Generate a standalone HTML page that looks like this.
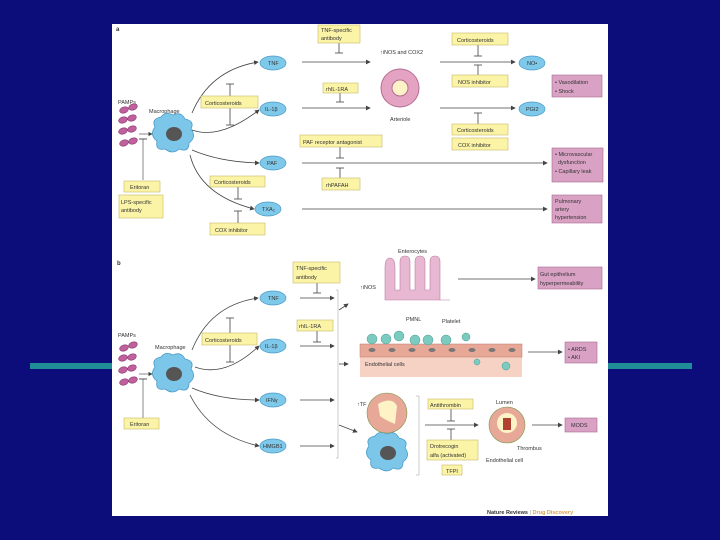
<!DOCTYPE html>
<html><head><meta charset="utf-8"><style>
html,body{margin:0;padding:0;width:720px;height:540px;overflow:hidden;background:#0c0c7a}
svg{position:absolute;left:0;top:0}
text{font-family:"Liberation Sans",sans-serif;fill:#333}
</style></head><body>
<svg width="720" height="540" viewBox="0 0 720 540">
<defs>
<marker id="ar" markerWidth="6" markerHeight="6" refX="5" refY="3" orient="auto"><path d="M0,0 L6,3 L0,6 z" fill="#444"/></marker>
<g id="mac"><path d="M-18,-6 Q-22,-14 -12,-16 Q-8,-22 0,-18 Q8,-22 12,-14 Q22,-12 18,-4 Q24,4 16,10 Q16,20 6,16 Q0,22 -8,16 Q-18,18 -16,8 Q-24,2 -18,-6z" fill="#7cc6ea" stroke="#4a9cc8" stroke-width="0.8"/><ellipse cx="1" cy="1" rx="8" ry="7" fill="#555"/></g>
<g id="pam"><ellipse cx="0" cy="0" rx="4.5" ry="3" fill="#c0609c" stroke="#8a3a70" stroke-width="0.6" transform="rotate(-20)"/></g>
</defs>
<rect x="30" y="363" width="662" height="6" fill="#1f8c96"/>
<rect x="112" y="24" width="496" height="492" fill="#fff"/>
<g font-size="5.5">
<text x="116" y="31" font-weight="bold" font-size="6">a</text>
<!-- panel a -->
<use href="#mac" x="173" y="133"/>
<text x="149" y="113">Macrophage</text>
<text x="118" y="104">PAMPs</text>
<use href="#pam" x="124" y="110"/><use href="#pam" x="133" y="107"/>
<use href="#pam" x="123" y="120"/><use href="#pam" x="132" y="118"/>
<use href="#pam" x="123" y="131"/><use href="#pam" x="132" y="129"/>
<use href="#pam" x="124" y="143"/><use href="#pam" x="133" y="141"/>
<line x1="139" y1="134" x2="152" y2="134" stroke="#555" stroke-width="0.7" marker-end="url(#ar)"/>
<line x1="143" y1="139" x2="143" y2="180" stroke="#555" stroke-width="0.7"/><line x1="139" y1="139" x2="147" y2="139" stroke="#555"/>
<g fill="none" stroke="#444" stroke-width="0.8" marker-end="url(#ar)">
<path d="M192,113 Q210,70 258,62"/><path d="M192,130 Q220,140 259,110"/>
<path d="M192,150 Q220,162 259,163"/><path d="M190,155 Q200,195 254,209"/>
<line x1="302" y1="62" x2="370" y2="62"/><line x1="302" y1="108" x2="370" y2="108"/>
<line x1="440" y1="62" x2="515" y2="62"/><line x1="440" y1="108" x2="515" y2="108"/>
<line x1="302" y1="163" x2="547" y2="163"/><line x1="302" y1="209" x2="547" y2="209"/>
</g>
<g stroke="#444" stroke-width="0.8">
<line x1="230" y1="84" x2="230" y2="96"/><line x1="226" y1="84" x2="234" y2="84"/>
<line x1="230" y1="108" x2="230" y2="125"/><line x1="226" y1="125" x2="234" y2="125"/>
<line x1="339" y1="43" x2="339" y2="53"/><line x1="335" y1="53" x2="343" y2="53"/>
<line x1="340" y1="93" x2="340" y2="102"/><line x1="336" y1="102" x2="344" y2="102"/>
<line x1="478" y1="45" x2="478" y2="56"/><line x1="474" y1="56" x2="482" y2="56"/>
<line x1="478" y1="75" x2="478" y2="65"/><line x1="474" y1="65" x2="482" y2="65"/>
<line x1="478" y1="124" x2="478" y2="113"/><line x1="474" y1="113" x2="482" y2="113"/>
<line x1="340" y1="147" x2="340" y2="158"/><line x1="336" y1="158" x2="344" y2="158"/>
<line x1="340" y1="178" x2="340" y2="168"/><line x1="336" y1="168" x2="344" y2="168"/>
<line x1="238" y1="187" x2="238" y2="199"/><line x1="234" y1="199" x2="242" y2="199"/>
<line x1="238" y1="223" x2="238" y2="211"/><line x1="234" y1="211" x2="242" y2="211"/>
</g>
<g fill="#7ec8ea" stroke="#4a9cc8" stroke-width="0.7">
<ellipse cx="273" cy="63" rx="13" ry="7"/><ellipse cx="273" cy="109" rx="13" ry="7"/>
<ellipse cx="273" cy="163" rx="13" ry="7"/><ellipse cx="268" cy="209" rx="13" ry="7"/>
<ellipse cx="532" cy="63" rx="13" ry="7"/><ellipse cx="532" cy="109" rx="13" ry="7"/>
</g>
<text x="268" y="65">TNF</text><text x="265" y="111">IL-1β</text><text x="267" y="165">PAF</text><text x="262" y="211">TXA₂</text>
<text x="527" y="65">NO•</text><text x="526" y="111">PGI2</text>
<circle cx="400" cy="88" r="19" fill="#e4a3c3" stroke="#b46d94"/><circle cx="400" cy="88" r="8" fill="#fdf3c6" stroke="#b46d94"/>
<text x="380" y="54">↑iNOS and COX2</text><text x="390" y="121">Arteriole</text>
<g fill="#fbf3a6" stroke="#c9b96a" stroke-width="0.6">
<rect x="318" y="25" width="42" height="18"/><rect x="452" y="33" width="56" height="12"/>
<rect x="452" y="75" width="56" height="12"/><rect x="201" y="96" width="57" height="12"/>
<rect x="323" y="83" width="35" height="10"/><rect x="452" y="124" width="56" height="11"/>
<rect x="452" y="138" width="56" height="12"/><rect x="300" y="135" width="82" height="12"/>
<rect x="322" y="178" width="38" height="12"/><rect x="210" y="176" width="55" height="11"/>
<rect x="210" y="223" width="55" height="12"/><rect x="124" y="181" width="36" height="11"/>
<rect x="119" y="195" width="44" height="23"/>
</g>
<text x="321" y="32">TNF-specific</text><text x="321" y="40">antibody</text>
<text x="457" y="42">Corticosteroids</text><text x="458" y="84">NOS inhibitor</text>
<text x="205" y="105">Corticosteroids</text><text x="326" y="91">rhIL-1RA</text>
<text x="457" y="132">Corticosteroids</text><text x="458" y="147">COX inhibitor</text>
<text x="303" y="144">PAF receptor antagonist</text><text x="326" y="187">rhPAFAH</text>
<text x="214" y="184">Corticosteroids</text><text x="215" y="232">COX inhibitor</text>
<text x="130" y="189">Eritoran</text><text x="121" y="204">LPS-specific</text><text x="121" y="212">antibody</text>
<g fill="#d9a2c4" stroke="#a86a90" stroke-width="0.6">
<rect x="552" y="75" width="50" height="22"/><rect x="552" y="148" width="51" height="34"/>
<rect x="552" y="195" width="50" height="28"/><rect x="538" y="267" width="64" height="22"/>
<rect x="565" y="342" width="32" height="21"/><rect x="565" y="418" width="32" height="14"/>
</g>
<text x="555" y="84">• Vasodilation</text><text x="555" y="93">• Shock</text>
<text x="555" y="156">• Microvascular</text><text x="558" y="164">dysfunction</text><text x="555" y="173">• Capillary leak</text>
<text x="555" y="203">Pulmonary</text><text x="555" y="211">artery</text><text x="555" y="219">hypertension</text>
<!-- panel b -->
<text x="117" y="265" font-weight="bold" font-size="6">b</text>
<use href="#mac" x="173" y="373"/><use href="#mac" x="387" y="452"/>
<text x="155" y="349">Macrophage</text><text x="118" y="337">PAMPs</text>
<use href="#pam" x="124" y="348"/><use href="#pam" x="133" y="345"/>
<use href="#pam" x="123" y="358"/><use href="#pam" x="132" y="357"/>
<use href="#pam" x="123" y="370"/><use href="#pam" x="132" y="368"/>
<use href="#pam" x="124" y="382"/><use href="#pam" x="133" y="380"/>
<line x1="139" y1="374" x2="152" y2="374" stroke="#555" stroke-width="0.7" marker-end="url(#ar)"/>
<line x1="143" y1="379" x2="143" y2="418" stroke="#555" stroke-width="0.7"/><line x1="139" y1="379" x2="147" y2="379" stroke="#555"/>
<g fill="none" stroke="#444" stroke-width="0.8" marker-end="url(#ar)">
<path d="M192,350 Q210,305 258,298"/><path d="M195,367 Q225,378 259,346"/>
<path d="M192,388 Q220,400 259,400"/><path d="M190,395 Q210,435 259,446"/>
<line x1="300" y1="298" x2="334" y2="298"/><line x1="300" y1="346" x2="334" y2="346"/>
<line x1="300" y1="400" x2="334" y2="400"/><line x1="300" y1="446" x2="334" y2="446"/>
<line x1="339" y1="310" x2="348" y2="304"/><line x1="339" y1="364" x2="348" y2="364"/>
<line x1="339" y1="425" x2="357" y2="432"/>
<line x1="458" y1="279" x2="535" y2="279"/><line x1="528" y1="352" x2="562" y2="352"/>
<line x1="425" y1="425" x2="478" y2="425"/><line x1="532" y1="425" x2="562" y2="425"/>
</g>
<g stroke="#444" stroke-width="0.8" fill="none">
<line x1="230" y1="318" x2="230" y2="333"/><line x1="226" y1="318" x2="234" y2="318"/>
<line x1="230" y1="345" x2="230" y2="362"/><line x1="226" y1="362" x2="234" y2="362"/>
<line x1="317" y1="283" x2="317" y2="293"/><line x1="313" y1="293" x2="321" y2="293"/>
<line x1="317" y1="331" x2="317" y2="342"/><line x1="313" y1="342" x2="321" y2="342"/>
<line x1="451" y1="409" x2="451" y2="421"/><line x1="447" y1="421" x2="455" y2="421"/>
<line x1="451" y1="440" x2="451" y2="429"/><line x1="447" y1="429" x2="455" y2="429"/>
<path d="M336,290 L338,290 L338,458 L336,458" stroke="#999" stroke-width="0.5"/>
<path d="M416,396 L419,396 L419,475 L416,475" stroke="#999" stroke-width="0.5"/>
</g>
<g fill="#7ec8ea" stroke="#4a9cc8" stroke-width="0.7">
<ellipse cx="273" cy="298" rx="13" ry="7"/><ellipse cx="273" cy="346" rx="13" ry="7"/>
<ellipse cx="273" cy="400" rx="13" ry="7"/><ellipse cx="273" cy="446" rx="13" ry="7"/>
</g>
<text x="268" y="300">TNF</text><text x="265" y="348">IL-1β</text><text x="266" y="402">IFNγ</text><text x="263" y="448">HMGB1</text>
<g fill="#fbf3a6" stroke="#c9b96a" stroke-width="0.6">
<rect x="293" y="262" width="47" height="21"/><rect x="297" y="320" width="36" height="11"/>
<rect x="202" y="333" width="55" height="12"/><rect x="124" y="418" width="35" height="11"/>
<rect x="428" y="399" width="45" height="10"/><rect x="427" y="440" width="51" height="20"/>
<rect x="442" y="465" width="20" height="10"/>
</g>
<text x="296" y="270">TNF-specific</text><text x="296" y="279">antibody</text><text x="299" y="328">rhIL-1RA</text>
<text x="205" y="342">Corticosteroids</text><text x="130" y="426">Eritoran</text>
<text x="430" y="407">Antithrombin</text><text x="430" y="448">Drotrecogin</text><text x="430" y="457">alfa (activated)</text><text x="446" y="473">TFPI</text>
<!-- enterocytes -->
<path d="M385,300 L385,268 Q385,258 390,258 Q395,258 395,268 L395,290 L400,290 L400,262 Q400,256 405,256 Q410,256 410,262 L410,290 L415,290 L415,262 Q415,256 420,256 Q425,256 425,262 L425,290 L430,290 L430,262 Q430,256 435,256 Q440,256 440,262 L440,300 L450,300 Z" fill="#e8b8d2" stroke="#b97ea0" stroke-width="0.6"/>
<text x="398" y="253">Enterocytes</text><text x="360" y="289">↑iNOS</text>
<text x="540" y="276">Gut epithelium</text><text x="540" y="285">hyperpermeability</text>
<!-- endothelium -->
<rect x="360" y="355" width="162" height="22" fill="#f5d2c4"/>
<rect x="360" y="344" width="162" height="13" fill="#e8a898" stroke="#c07868" stroke-width="0.5"/>
<g fill="#777"><ellipse cx="372" cy="350" rx="3.5" ry="2"/><ellipse cx="392" cy="350" rx="3.5" ry="2"/><ellipse cx="412" cy="350" rx="3.5" ry="2"/><ellipse cx="432" cy="350" rx="3.5" ry="2"/><ellipse cx="452" cy="350" rx="3.5" ry="2"/><ellipse cx="472" cy="350" rx="3.5" ry="2"/><ellipse cx="492" cy="350" rx="3.5" ry="2"/><ellipse cx="512" cy="350" rx="3.5" ry="2"/></g>
<g fill="#7ccbc0" stroke="#4a9a90" stroke-width="0.5"><circle cx="372" cy="339" r="5"/><circle cx="386" cy="339" r="5"/><circle cx="399" cy="336" r="5"/><circle cx="415" cy="340" r="5"/><circle cx="428" cy="340" r="5"/><circle cx="446" cy="340" r="5"/><circle cx="466" cy="337" r="4"/><circle cx="506" cy="366" r="4"/><circle cx="477" cy="362" r="3"/></g>
<text x="406" y="321">PMNL</text><text x="442" y="323">Platelet</text><text x="365" y="366">Endothelial cells</text>
<text x="568" y="351">• ARDS</text><text x="568" y="359">• AKI</text><text x="571" y="427">MODS</text>
<!-- vessels -->
<circle cx="387" cy="413" r="20" fill="#e8a898" stroke="#7a9a50" stroke-width="0.6"/><path d="M378,404 Q392,396 397,406 L395,424 Q385,420 380,416 Z" fill="#fdf3c6"/>
<circle cx="507" cy="425" r="18" fill="#e8a898" stroke="#7a9a50" stroke-width="0.6"/><circle cx="507" cy="423" r="10" fill="#fdf3c6"/><rect x="503" y="418" width="8" height="12" fill="#b04030"/>
<text x="357" y="406">↑TF</text><text x="496" y="404">Lumen</text><text x="517" y="450">Thrombus</text><text x="486" y="462">Endothelial cell</text>
<text x="487" y="514" font-weight="bold" fill="#222">Nature Reviews <tspan fill="#999" font-weight="normal">|</tspan> <tspan fill="#d9a050">Drug Discovery</tspan></text>
</g>
</svg>
</body></html>
